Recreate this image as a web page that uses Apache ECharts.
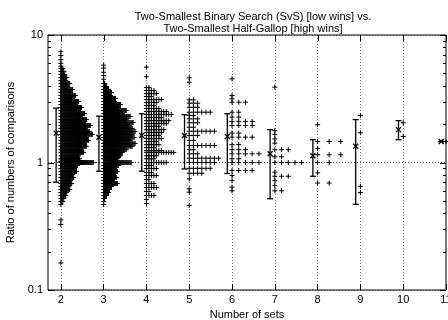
<!DOCTYPE html>
<html>
<head>
<meta charset="utf-8">
<script src="https://cdn.jsdelivr.net/npm/echarts@6/dist/echarts.min.js"></script>
<style>
  html, body { margin: 0; padding: 0; background: #fff; }
  #chart { width: 448px; height: 320px; }
</style>
</head>
<body>
<div id="chart"></div>
<script>
// number of sets (x axis)
const setCounts = [2, 3, 4, 5, 6, 7, 8, 9, 10, 11]

// ratio values seen for each number of sets, and how many runs hit that ratio
// (repeated ratios are stacked sideways, like in the original plot)
const ratios2 = [7.4, 6.9, 6.4, 6.0, 5.7, 5.46, 5.17, 4.90, 4.64, 4.40, 4.17, 3.95, 3.74, 3.54, 3.35, 3.18, 3.01, 2.85, 2.70, 2.56, 2.42, 2.30, 2.17, 2.06, 1.95, 1.85, 1.75, 1.66, 1.57, 1.49, 1.41, 1.34, 1.26, 1.20, 1.13, 1.07, 1.02, 1.00, 0.947, 0.897, 0.850, 0.805, 0.763, 0.722, 0.684, 0.648, 0.614, 0.582, 0.551, 0.522, 0.494, 0.469, 0.355, 0.327, 0.163]
const counts2 = [1, 1, 1, 1, 1, 3, 4, 5, 7, 6, 10, 8, 13, 11, 16, 13, 19, 16, 22, 19, 25, 21, 27, 24, 31, 26, 30, 33, 27, 29, 25, 27, 22, 24, 19, 20, 17, 34, 18, 15, 17, 13, 14, 11, 12, 9, 10, 7, 6, 4, 3, 1, 1, 1, 1]

const ratios3 = [5.8, 5.5, 5.1, 4.8, 4.5, 4.17, 3.95, 3.74, 3.54, 3.35, 3.18, 3.01, 2.85, 2.70, 2.56, 2.42, 2.30, 2.17, 2.06, 1.95, 1.85, 1.75, 1.66, 1.57, 1.49, 1.41, 1.34, 1.26, 1.20, 1.13, 1.07, 1.00, 0.947, 0.897, 0.850, 0.805, 0.763, 0.722, 0.684, 0.648, 0.614, 0.582, 0.551, 0.522, 0.494, 0.469]
const counts3 = [1, 1, 1, 1, 1, 2, 4, 6, 9, 8, 13, 12, 18, 16, 24, 20, 28, 24, 31, 27, 30, 33, 30, 32, 28, 33, 30, 24, 20, 18, 15, 29, 16, 12, 15, 11, 14, 10, 15, 9, 7, 6, 4, 2, 1, 1]

const ratios4 = [5.6, 4.7, 3.87, 3.67, 3.47, 3.29, 3.12, 2.96, 2.80, 2.65, 2.51, 2.38, 2.25, 2.13, 2.02, 1.92, 1.81, 1.72, 1.63, 1.54, 1.46, 1.38, 1.31, 1.24, 1.20, 1.13, 1.07, 1.00, 0.947, 0.897, 0.835, 0.79, 0.736, 0.684, 0.637, 0.592, 0.551, 0.513, 0.477]
const counts4 = [1, 1, 2, 4, 5, 3, 7, 5, 4, 6, 9, 11, 7, 10, 9, 6, 8, 7, 6, 7, 5, 6, 4, 7, 12, 5, 4, 9, 3, 5, 3, 5, 2, 4, 5, 2, 4, 1, 1]

const ratios5 = [4.62, 4.26, 3.10, 2.92, 2.71, 2.48, 2.34, 2.20, 2.05, 1.89, 1.76, 1.63, 1.49, 1.36, 1.26, 1.17, 1.08, 1.00, 0.90, 0.824, 0.745, 0.622, 0.585, 0.46]
const counts5 = [1, 1, 2, 3, 3, 6, 2, 3, 3, 2, 7, 3, 2, 7, 2, 3, 8, 7, 6, 4, 1, 1, 1, 1]

const ratios6 = [4.53, 3.35, 3.16, 2.97, 2.48, 2.27, 2.10, 1.95, 1.70, 1.58, 1.38, 1.26, 1.17, 1.07, 1.00, 0.866, 0.79, 0.72, 0.64, 0.60]
const counts6 = [1, 1, 1, 3, 2, 2, 4, 4, 2, 4, 2, 3, 5, 2, 5, 4, 1, 1, 1, 1]

const ratios7 = [3.9, 1.78, 1.66, 1.53, 1.42, 1.26, 1.11, 1.00, 0.84, 0.78, 0.72, 0.66, 0.60]
const counts7 = [1, 1, 1, 1, 1, 3, 2, 5, 1, 3, 1, 1, 2]

const ratios8 = [1.98, 1.46, 1.29, 1.15, 1.00, 0.83, 0.69]
const counts8 = [1, 3, 1, 3, 2, 1, 2]

const ratios9 = [2.34, 1.71, 0.65, 0.58]
const counts9 = [1, 1, 1, 1]

const ratios10 = [2.05, 1.60]
const counts10 = [1, 1]

const ratios11 = [1.46]
const counts11 = [1]

// mean and +-1 std dev bars
const meanRatio = [1.70, 1.58, 1.63, 1.63, 1.60, 1.17, 1.13, 1.34, 1.81, 1.46]
const lowRatio = [0.70, 0.855, 0.855, 0.89, 0.82, 0.52, 0.78, 0.47, 1.51, 1.46]
const highRatio = [2.67, 2.31, 2.41, 2.37, 2.41, 1.81, 1.51, 2.17, 2.13, 1.46]

// y axis tick labels
const yTicks = [0.1, 1, 10]

// sideways step between stacked duplicates, per number of sets (x units)
const stackStep = [0.023, 0.023, 0.058, 0.098, 0.157, 0.157, 0.27, 0.27, 0.27, 0.27]
const barShift = -0.11

const groups = [
  [ratios2, counts2], [ratios3, counts3], [ratios4, counts4], [ratios5, counts5],
  [ratios6, counts6], [ratios7, counts7], [ratios8, counts8], [ratios9, counts9],
  [ratios10, counts10], [ratios11, counts11]
]

let points = []
groups.forEach((g, i) => {
  g[0].forEach((r, j) => {
    for (let k = 0; k < g[1][j]; k++) {
      points.push([setCounts[i] + k * stackStep[i], r])
    }
  })
})

let bars = setCounts.map((n, i) => [n + barShift, lowRatio[i], highRatio[i], meanRatio[i]])

const font = 'Liberation Sans, Arial, sans-serif'
const plus = 'path://M0,5L10,5M5,0L5,10'

let myChart = echarts.init(document.getElementById('chart'))
let option = {
  animation: false,
  title: {
    text: 'Two-Smallest Binary Search (SvS) [low wins] vs.\nTwo-Smallest Half-Gallop [high wins]',
    left: 248,
    top: 6,
    textAlign: 'center',
    textStyle: { fontFamily: font, fontSize: 11, fontWeight: 'normal', color: '#000', lineHeight: 12 }
  },
  grid: {
    left: 48,
    right: 2,
    top: 35,
    bottom: 30,
    show: true,
    borderColor: '#000',
    borderWidth: 1,
    containLabel: false,
    outerBoundsMode: 'none'
  },
  xAxis: {
    type: 'value',
    min: 1.7,
    max: 11,
    name: 'Number of sets',
    nameLocation: 'middle',
    nameGap: 17,
    nameTextStyle: { fontFamily: font, fontSize: 11, color: '#000' },
    axisLine: { show: false },
    axisTick: { show: true, inside: true, length: 6, customValues: setCounts, lineStyle: { color: '#000' } },
    axisLabel: { customValues: setCounts, fontFamily: font, fontSize: 11, color: '#000', margin: 4 },
    splitLine: { show: true, lineStyle: { color: '#777', type: [1, 2], width: 1 } }
  },
  yAxis: {
    type: 'log',
    logBase: 10,
    min: 0.1,
    max: 10,
    name: 'Ratio of numbers of comparisons',
    nameLocation: 'middle',
    nameGap: 29,
    nameTextStyle: { fontFamily: font, fontSize: 11, color: '#000' },
    axisLine: { show: false },
    axisTick: { show: false },
    axisLabel: {
      fontFamily: font, fontSize: 11, color: '#000', margin: 5,
      formatter: function (v) {
        return yTicks.indexOf(v) >= 0 ? String(v) : ''
      }
    },
    splitLine: { show: true, lineStyle: { color: '#444', type: [1, 2], width: 1 } }
  },
  series: [
    {
      // frame ticks, gnuplot style (inside, both sides)
      type: 'custom',
      silent: true,
      z: 1,
      data: [[2, 1]],
      renderItem: function (params, api) {
        let cs = params.coordSys
        let kids = []
        let st = { stroke: '#000', lineWidth: 1 }
        for (let e = -1; e <= 0; e++) {
          for (let m = 1; m <= 10; m++) {
            let v = m * Math.pow(10, e)
            let y = Math.round(api.coord([2, v])[1]) + 0.5
            let len = (m === 1 || m === 10) ? 6 : 3
            kids.push({ type: 'line', shape: { x1: cs.x, y1: y, x2: cs.x + len, y2: y }, style: st })
            kids.push({ type: 'line', shape: { x1: cs.x + cs.width - len, y1: y, x2: cs.x + cs.width, y2: y }, style: st })
          }
        }
        setCounts.forEach(n => {
          let x = Math.round(api.coord([n, 1])[0]) + 0.5
          kids.push({ type: 'line', shape: { x1: x, y1: cs.y, x2: x, y2: cs.y + 6 }, style: st })
        })
        return { type: 'group', children: kids }
      }
    },
    {
      type: 'scatter',
      symbol: plus,
      symbolSize: 5,
      large: false,
      z: 3,
      itemStyle: { color: 'none', borderColor: '#000', borderWidth: 1, opacity: 1 },
      data: points
    },
    {
      // mean +- std dev
      type: 'custom',
      z: 4,
      data: bars,
      renderItem: function (params, api) {
        let top = api.coord([api.value(0), api.value(2)])
        let bot = api.coord([api.value(0), api.value(1)])
        let mid = api.coord([api.value(0), api.value(3)])
        let st = { stroke: '#000', lineWidth: 1.3 }
        return {
          type: 'group',
          children: [
            { type: 'line', shape: { x1: top[0], y1: top[1], x2: bot[0], y2: bot[1] }, style: st },
            { type: 'line', shape: { x1: top[0] - 3, y1: top[1], x2: top[0] + 3, y2: top[1] }, style: st },
            { type: 'line', shape: { x1: bot[0] - 3, y1: bot[1], x2: bot[0] + 3, y2: bot[1] }, style: st },
            { type: 'line', shape: { x1: mid[0] - 2.5, y1: mid[1] - 2.5, x2: mid[0] + 2.5, y2: mid[1] + 2.5 }, style: st },
            { type: 'line', shape: { x1: mid[0] - 2.5, y1: mid[1] + 2.5, x2: mid[0] + 2.5, y2: mid[1] - 2.5 }, style: st }
          ]
        }
      }
    }
  ]
}
myChart.setOption(option)
</script>
</body>
</html>
